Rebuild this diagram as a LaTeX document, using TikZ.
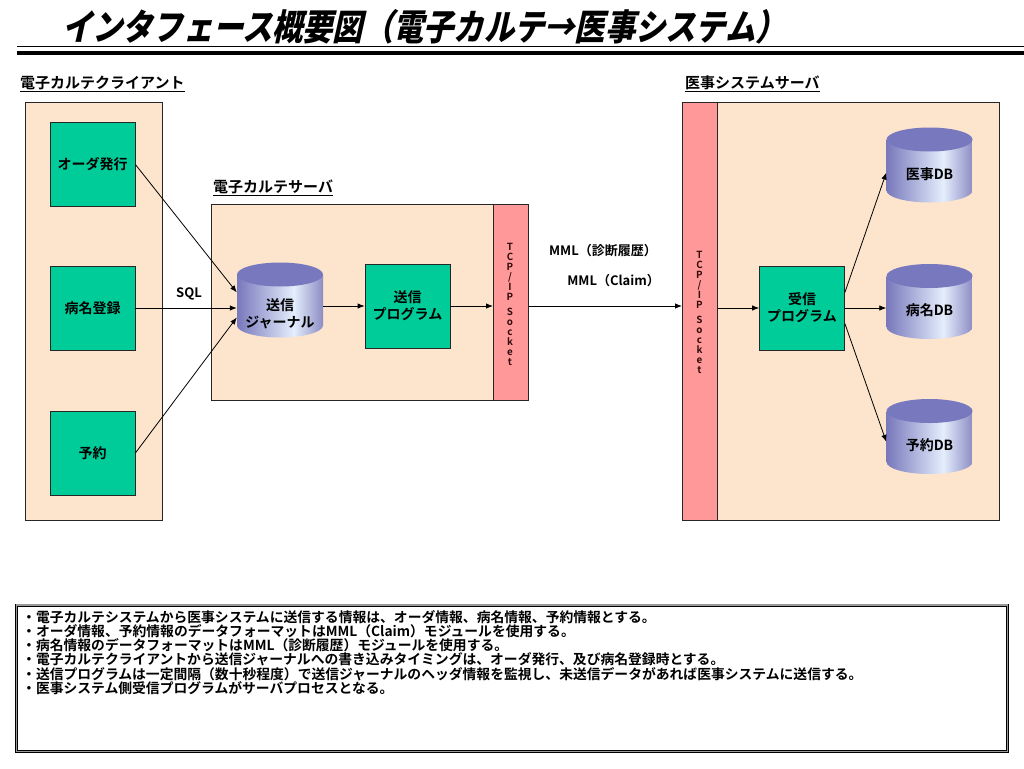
\documentclass[tikz,border=0pt]{standalone}
\usepackage{fontspec}
\setmainfont{Noto Sans CJK JP}[BoldFont=* Bold]
\newfontfamily\titlefont{Noto Sans CJK JP}[FakeSlant=0.22,FakeStretch=0.84]
\usetikzlibrary{arrows.meta,calc}
\definecolor{peach}{RGB}{253,228,204}
\definecolor{boxgreen}{RGB}{0,204,153}
\definecolor{tcppink}{RGB}{255,153,153}
\definecolor{cylL}{RGB}{120,120,188}
\definecolor{cylH}{RGB}{228,238,252}
\definecolor{cylR}{RGB}{140,140,196}
\definecolor{cyltop}{RGB}{120,120,190}
\definecolor{tcptext}{RGB}{50,10,10}
\pgfdeclarehorizontalshading{cylsh}{100bp}{color(0bp)=(cylL); color(25bp)=(cylL); color(58bp)=(cylH); color(75bp)=(cylR); color(100bp)=(cylR)}
\newcommand{\cyltxt}[2]{\raisebox{#1}[0pt][0pt]{\begin{tabular}[b]{@{}c@{}}#2\end{tabular}}}
\begin{document}
\begin{tikzpicture}[x=1pt,y=-1pt,
  panel/.style={draw=black!85,line width=0.8pt,fill=peach,anchor=north west,inner sep=0pt},
  tcpbar/.style={draw=black!85,line width=0.8pt,fill=tcppink,anchor=north west,inner sep=0pt},
  gbox/.style={draw=black!85,line width=0.8pt,fill=boxgreen,minimum width=85pt,minimum height=84pt,inner sep=0pt,font=\bfseries\fontsize{14}{17}\selectfont,align=center},
  dbcyl/.style={minimum width=86pt,minimum height=75pt,inner sep=0pt,font=\bfseries\fontsize{14}{17}\selectfont,
    path picture={
      \shade[shading=cylsh] ($(path picture bounding box.north west)+(0,12)$) -- ($(path picture bounding box.south west)+(0,-12)$)
        arc[start angle=180,end angle=360,x radius=43pt,y radius=12pt] -- ($(path picture bounding box.north east)+(0,12)$) -- cycle;
      \fill[cyltop] ($(path picture bounding box.north)+(0,12)$) ellipse[x radius=43pt,y radius=12pt];
    }},
  arr/.style={-{Latex[length=7pt,width=5.5pt]},line width=0.8pt,black},
  seclabel/.style={anchor=west,inner sep=0pt,font=\bfseries\fontsize{15}{17}\selectfont},
  vtext/.style={align=center,inner sep=0pt,text=tcptext,font=\bfseries\fontsize{9.8}{10}\selectfont},
  note/.style={anchor=west,inner sep=0pt,font=\bfseries\fontsize{13.8}{14}\selectfont}
]
\useasboundingbox[fill=white] (0,0) rectangle (1024,768);

% title
\node[inner sep=0pt,anchor=west] (title) at (62,26.5) {\titlefont\bfseries\fontsize{36}{40}\selectfont インタフェース概要図（電子カルテ→医事システム）};
\draw[line width=1.1pt] (17,46.8) -- (1024,46.8);
\draw[line width=4pt] (17,52.6) -- (1024,52.6);

% client
\node[seclabel] (lclient) at (20,84) {\underline{電子カルテクライアント}};
\node[panel,minimum width=137pt,minimum height=418pt] (client) at (25,102) {};
\node[gbox] (ord) at (92.5,164.5) {オーダ発行};
\node[gbox] (byo) at (92.5,308) {病名登録};
\node[gbox] (yoy) at (92.5,453) {予約};

% server
\node[seclabel] (lsrv) at (213,188) {\underline{電子カルテサーバ}};
\node[panel,minimum width=317pt,minimum height=196pt] (srv) at (211,204) {};
\node[tcpbar,minimum width=35pt,minimum height=196pt] (tcpL) at (493,204) {};
\node[vtext] (tcpLt) at (510,304) {T\\C\\P\\/\\I\\P\\[5pt]S\\o\\c\\k\\e\\t};
\node[dbcyl] (jnl) at (280,300) {\cyltxt{-27pt}{送信\\ジャーナル}};
\node[gbox] (send) at (407.5,306) {送信\\プログラム};

% right
\node[seclabel] (lrs) at (685,84) {\underline{医事システムサーバ}};
\node[panel,minimum width=317pt,minimum height=418pt] (rsrv) at (682,102) {};
\node[tcpbar,minimum width=35pt,minimum height=418pt] (tcpR) at (682,102) {};
\node[vtext] (tcpRt) at (699.5,312) {T\\C\\P\\/\\I\\P\\[5pt]S\\o\\c\\k\\e\\t};
\node[gbox] (recv) at (802,308) {受信\\プログラム};
\node[dbcyl] (db1) at (929.5,165) {\cyltxt{-14pt}{医事DB}};
\node[dbcyl] (db2) at (929.5,301.5) {\cyltxt{-14pt}{病名DB}};
\node[dbcyl] (db3) at (929.5,436.5) {\cyltxt{-14pt}{予約DB}};

% labels
\node[inner sep=0pt,font=\bfseries\fontsize{13}{15}\selectfont] (sql) at (189,294) {SQL};
\node[inner sep=0pt,anchor=east,font=\bfseries\fontsize{13}{15}\selectfont] (mml1) at (657,251) {MML（診断履歴）};
\node[inner sep=0pt,anchor=east,font=\bfseries\fontsize{13}{15}\selectfont] (mml2) at (660,281) {MML（Claim）};

% connectors
\draw[arr] (ord.east) -- (jnl.170);
\draw[arr] (byo.east) -- (byo.east -| jnl.west);
\draw[arr] (yoy.east) -- (jnl.202);
\draw[arr] (send.west -| jnl.east) -- (send.west);
\draw[arr] (send.east) -- (send.east -| tcpL.west);
\draw[arr] (send.east -| tcpL.east) -- (send.east -| tcpR.west);
\draw[arr] (recv.west -| tcpR.east) -- (recv.west);
\draw[arr] (recv.20) -- (db1.190);
\draw[arr] (recv.east) -- (recv.east -| db2.west);
\draw[arr] (recv.-20) -- (db3.187);

% notes
\draw[line width=0.8pt,double=black!40,double distance=1.4pt] (16.5,605) rectangle (1007.5,751.5);
\node[note] (n1) at (22,617) {・電子カルテシステムから医事システムに送信する情報は、オーダ情報、病名情報、予約情報とする。};
\node[note] (n2) at (22,631.2) {・オーダ情報、予約情報のデータフォーマットはMML（Claim）モジュールを使用する。};
\node[note] (n3) at (22,645.4) {・病名情報のデータフォーマットはMML（診断履歴）モジュールを使用する。};
\node[note] (n4) at (22,659.6) {・電子カルテクライアントから送信ジャーナルへの書き込みタイミングは、オーダ発行、及び病名登録時とする。};
\node[note] (n5) at (22,673.8) {・送信プログラムは一定間隔（数十秒程度）で送信ジャーナルのヘッダ情報を監視し、未送信データがあれば医事システムに送信する。};
\node[note] (n6) at (22,688) {・医事システム側受信プログラムがサーバプロセスとなる。};
\end{tikzpicture}
\end{document}
